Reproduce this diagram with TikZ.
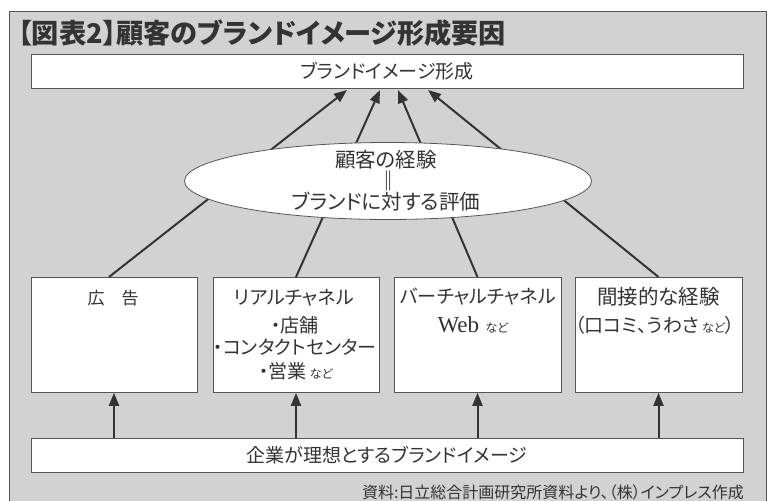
\documentclass[tikz,border=0pt]{standalone}
\usepackage{fontspec}
\setmainfont{Noto Sans CJK JP}[RawFeature={+palt}]
\newfontfamily\webfont{Liberation Serif}
\usetikzlibrary{arrows.meta,shapes.geometric}
\definecolor{bg}{HTML}{D2D2D2}
\definecolor{ink}{HTML}{333333}
\definecolor{edge}{HTML}{555555}
\begin{document}
\begin{tikzpicture}[x=1pt,y=-1pt,
  box/.style={draw=edge,fill=white,line width=0.8pt,inner sep=0pt},
  conn/.style={draw=ink,line width=2pt,-{Triangle[length=13pt,width=10pt]}},
  txt/.style={font=\fontsize{19}{22}\selectfont,text=ink,inner sep=0pt},
  big/.style={font=\fontsize{20.5}{24}\selectfont}]
\useasboundingbox (0,0) rectangle (772,501);
\fill[white] (0,0) rectangle (772,501);
\begin{scope}
  \clip (0,0) rectangle (772,501);
  \filldraw[fill=bg,draw=edge,line width=0.8pt] (9,11) rectangle (766,530);
\end{scope}
% title
\node[anchor=west,inner sep=0pt,text=ink,font=\fontsize{27.2}{30}\selectfont\bfseries] (title) at (18,33) {【図表2】顧客のブランドイメージ形成要因};
% top box
\node[box,txt,minimum width=712pt,minimum height=34pt] (top) at (387,71) {ブランドイメージ形成};
% target points on top box
\coordinate (t1) at (347,90);
\coordinate (t2) at (380,90);
\coordinate (t3) at (398,90);
\coordinate (t4) at (428,90);
% bottom row boxes
\node[box,minimum width=166pt,minimum height=115pt,anchor=north] (b1) at (114,277) {};
\node[box,minimum width=166pt,minimum height=115pt,anchor=north] (b2) at (296,277) {};
\node[box,minimum width=167pt,minimum height=115pt,anchor=north] (b3) at (477.5,277) {};
\node[box,minimum width=167pt,minimum height=115pt,anchor=north] (b4) at (658.5,277) {};
% base box
\node[box,txt,minimum width=712pt,minimum height=34pt] (base) at (387,455) {企業が理想とするブランドイメージ};
% arrows to top
\draw[conn] ([xshift=-5pt]b1.north) -- (t1);
\draw[conn] (b2.north) -- (t2);
\draw[conn] (b3.north) -- (t3);
\draw[conn] (b4.north) -- (t4);
% ellipse
\node[ellipse,draw=edge,fill=white,line width=0.8pt,minimum width=407pt,minimum height=77pt,inner sep=0pt] (ell) at (388,181) {};
\node[txt,big] (e1) at (386,160) {顧客の経験};
\node[txt,font=\fontsize{20}{20}\selectfont\bfseries] (e2) at (388,181) {‖};
\node[txt,big] (e3) at (386,202) {ブランドに対する評価};
% box texts
\node[txt,font=\fontsize{17}{20}\selectfont] (l1) at (113,298) {広　告};
\node[txt] (l2a) at (294,298) {リアルチャネル};
\node[txt] (l2b) at (295,325) {・店舗};
\node[txt] (l2c) at (295,347) {・コンタクトセンター};
\node[txt] (l2d) at (296,371) {・営業\,{\fontsize{12}{14}\selectfont など}};
\node[txt] (l3a) at (478,297) {バーチャルチャネル};
\node[txt] (l3b) at (473,325) {{\webfont\fontsize{23}{24}\selectfont Web}\,\,{\fontsize{12}{14}\selectfont など}};
\node[txt,big] (l4a) at (658.5,297) {間接的な経験};
\node[txt] (l4b) at (655,325) {（口コミ、うわさ\,{\fontsize{12}{14}\selectfont など}）};
% vertical arrows
\draw[conn] (b1.south |- base.north) -- (b1.south);
\draw[conn] (b2.south |- base.north) -- (b2.south);
\draw[conn] (b3.south |- base.north) -- (b3.south);
\draw[conn] (b4.south |- base.north) -- (b4.south);
% footer
\node[anchor=base east,inner sep=0pt,text=ink,font=\fontsize{16}{18}\selectfont] (src) at (744,498) {資料:日立総合計画研究所資料より、（株）インプレス作成};
\end{tikzpicture}
\end{document}
